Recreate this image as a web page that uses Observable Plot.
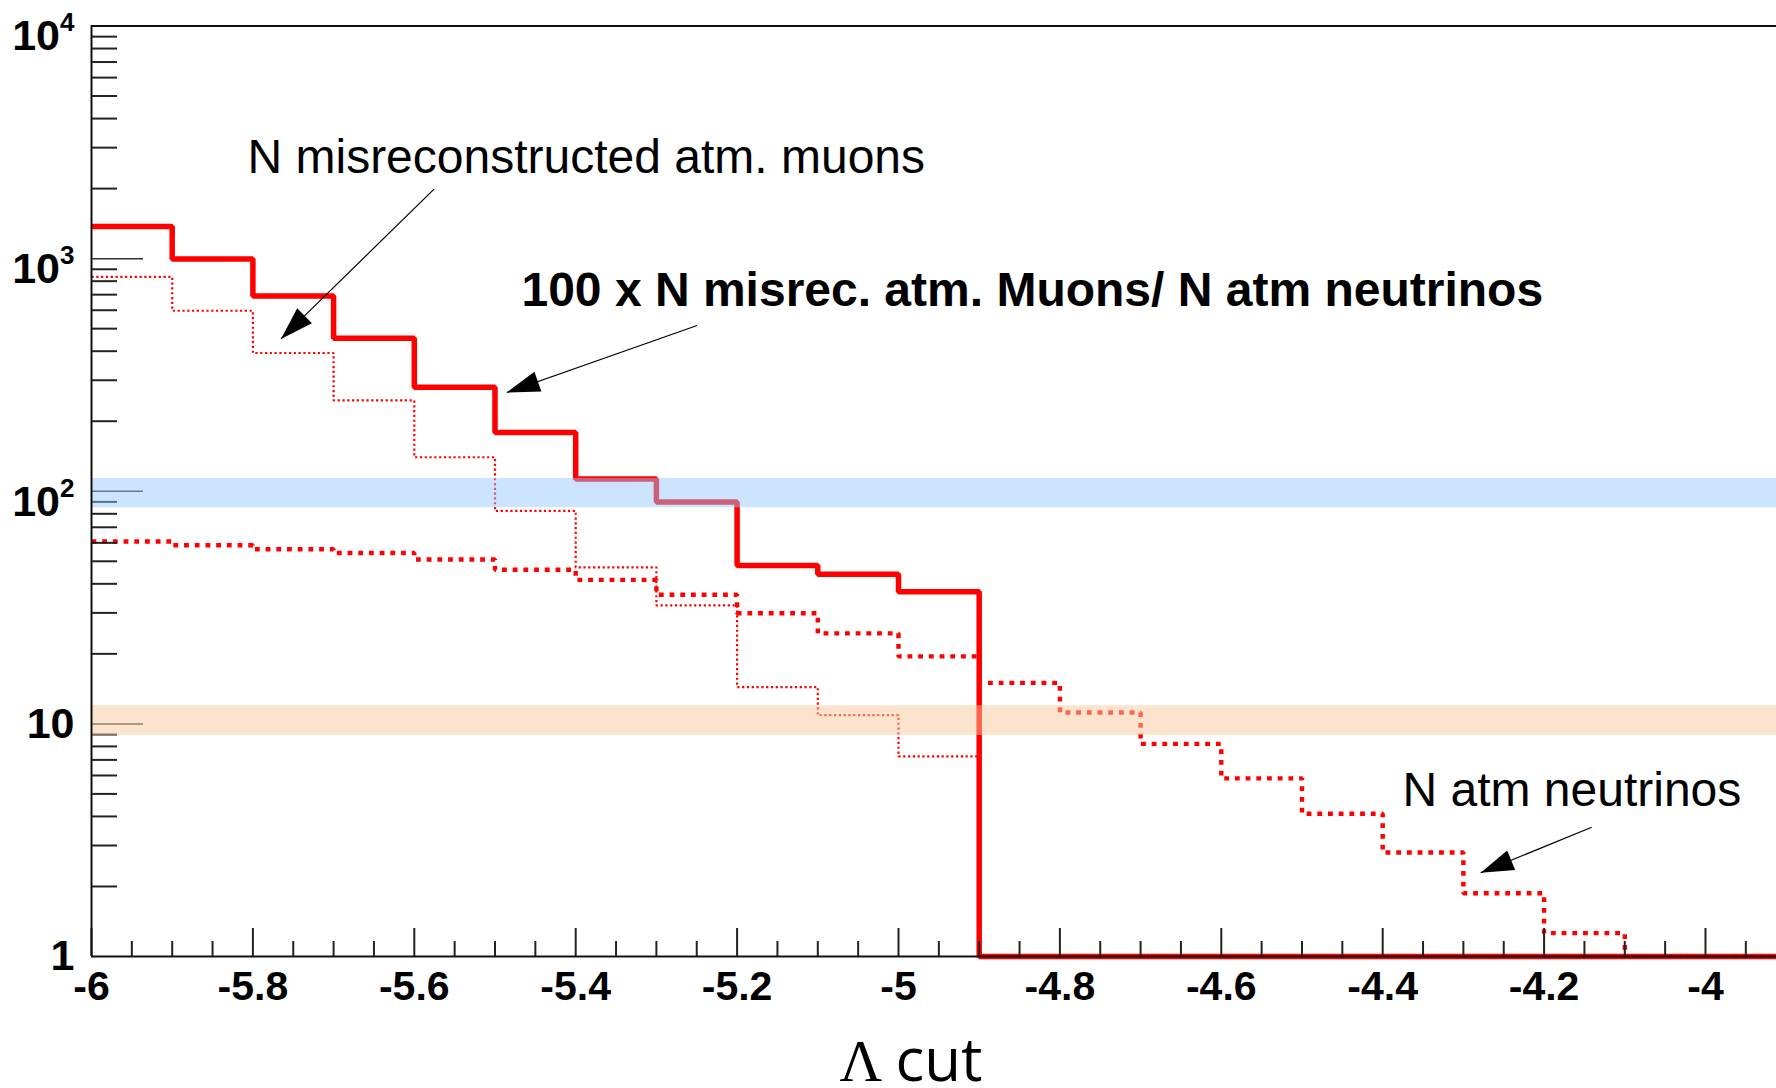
<!DOCTYPE html>
<html>
<head>
<meta charset="utf-8">
<script src="https://cdn.jsdelivr.net/npm/d3@7"></script>
<script src="https://cdn.jsdelivr.net/npm/@observablehq/plot@0.6"></script>
<style>
html, body { margin: 0; padding: 0; background: #fff; }
svg { display: block; }
</style>
</head>
<body>
<div id="chart"></div>
<script>
// ---- data ----
const binEdges = [-6.0, -5.9, -5.8, -5.7, -5.6, -5.5, -5.4, -5.3, -5.2, -5.1, -5.0,
                  -4.9, -4.8, -4.7, -4.6, -4.5, -4.4, -4.3, -4.2, -4.1, -4.0];
const lastEdge = -3.9;
const ratioX100    = [1373, 997, 690, 455, 280, 179, 113, 90, 48, 44, 37, 0, 0, 0, 0, 0, 0, 0, 0, 0, 0];
const misrecMuons  = [835, 597, 393, 246, 140, 82.4, 47.1, 32.3, 14.4, 10.9, 7.25, 0, 0, 0, 0, 0, 0, 0, 0, 0, 0];
const atmNeutrinos = [60.8, 58.6, 56.3, 54.3, 50.9, 46.0, 41.6, 35.9, 29.9, 24.5, 19.5,
                      15.0, 11.2, 8.2, 5.83, 4.11, 2.80, 1.87, 1.26, 0, 0];

const bandLow  = [84.9, 8.92];
const bandHigh = [113.5, 11.96];
const bandFill = ["rgb(149,199,253)", "rgb(250,200,155)"];

const xTicks = [-6, -5.8, -5.6, -5.4, -5.2, -5, -4.8, -4.6, -4.4, -4.2, -4];
const xTickLabels = ["-6", "-5.8", "-5.6", "-5.4", "-5.2", "-5", "-4.8", "-4.6", "-4.4", "-4.2", "-4"];
const yTicks = [1, 10, 100, 1000, 10000];
const yTickLabels = ["1", "10", "10^2", "10^3", "10^4"];
const xTitleSymbol = "Λ";
const xTitleWord = "cut";

const annText = ["N misreconstructed atm. muons", "100 x N misrec. atm. Muons/ N atm neutrinos", "N atm neutrinos"];
const annX = [-5.8067, -5.4672, -4.3755];
const annY = [3271, 874.0, 6.218];
const annBold = [false, true, false];

const arrowFromX = [-5.5755, -5.2496, -4.141];
const arrowFromY = [1990, 515.7, 3.596];
const arrowToX   = [-5.7652, -5.4854, -4.2786];
const arrowToY   = [451.6, 265.7, 2.290];

// ---- helpers ----
const steps = (vals) => binEdges.map((x, i) => ({x, v: vals[i]}))
  .concat([{x: lastEdge, v: vals[vals.length - 1]}]);
const tail = (rows) => rows.filter(d => d.v === 0);
const floorY = d => Math.max(d.v, 1);

const ratioRows = steps(ratioX100);
const muonRows = steps(misrecMuons);
const nuRows = steps(atmNeutrinos);

const bands = bandLow.map((lo, i) => ({lo, hi: bandHigh[i], fill: bandFill[i]}));
const ann = annText.map((t, i) => ({t, x: annX[i], y: annY[i], bold: annBold[i]}));
const arrows = arrowFromX.map((x1, i) => ({x1, y1: arrowFromY[i], x2: arrowToX[i], y2: arrowToY[i]}));

const yMinor = [];
for (let k = 0; k < 4; k++) for (let m = 2; m <= 9; m++) yMinor.push(m * Math.pow(10, k));
const xMinor = d3.range(0, 43).map(i => -6 + i * 0.05).filter(v => Math.abs(Math.round(v * 5) - v * 5) > 1e-6);

const FONT = "Liberation Sans, Arial, Helvetica, sans-serif";
const lineStyle = {strokeLinecap: "butt", strokeLinejoin: "miter"};

const arrowHeadRender = (index, scales, values, dimensions, context, next) => {
  const g = next(index, scales, values, dimensions, context);
  const ns = "http://www.w3.org/2000/svg";
  const L = 33, W = 10.5;
  for (const i of index) {
    const sx = values.x1[i], sy = values.y1[i], tx = values.x2[i], ty = values.y2[i];
    const dx = tx - sx, dy = ty - sy, len = Math.hypot(dx, dy);
    const ux = dx / len, uy = dy / len;
    const bx = tx - L * ux, by = ty - L * uy;
    const p = document.createElementNS(ns, "path");
    p.setAttribute("d", `M${tx},${ty}L${bx - W * uy},${by + W * ux}L${bx + W * uy},${by - W * ux}Z`);
    p.setAttribute("fill", "black");
    p.setAttribute("stroke", "none");
    g.appendChild(p);
  }
  return g;
};

const svg = Plot.plot({
  width: 1776,
  height: 1088,
  marginLeft: 91,
  marginRight: 0,
  marginTop: 25.5,
  marginBottom: 132,
  style: {fontFamily: FONT, background: "white", overflow: "hidden"},
  x: {domain: [-6, -3.912], axis: null},
  y: {type: "log", domain: [1, 10000], axis: null},
  marks: [
    // histograms
    Plot.line(nuRows, {x: "x", y: floorY, curve: "step-after", stroke: "#ff0000", strokeWidth: 4.4, strokeDasharray: "4.8,5.9", ...lineStyle}),
    Plot.line(muonRows, {x: "x", y: floorY, curve: "step-after", stroke: "#ff0000", strokeWidth: 2.2, strokeDasharray: "2.2,2.6", ...lineStyle}),
    Plot.line(ratioRows, {x: "x", y: floorY, curve: "step-after", stroke: "#ff0000", strokeWidth: 5.5, ...lineStyle}),
    Plot.line(tail(muonRows), {x: "x", y: floorY, curve: "step-after", stroke: "#000", strokeWidth: 1.3, strokeDasharray: "2,2", ...lineStyle}),
    Plot.line(tail(nuRows), {x: "x", y: floorY, curve: "step-after", stroke: "#000", strokeWidth: 1.3, strokeDasharray: "3,6", ...lineStyle}),
    // ticks (inside the frame)
    Plot.axisY(yMinor, {anchor: "left", tickSize: -26, tickFormat: () => "", stroke: "#222", strokeWidth: 2, label: null}),
    Plot.axisY([10, 100, 1000], {anchor: "left", tickSize: -52, tickFormat: () => "", stroke: "#333", strokeWidth: 1.5, label: null}),
    Plot.axisX(xMinor, {anchor: "bottom", tickSize: -15, tickFormat: () => "", stroke: "#222", strokeWidth: 2, label: null}),
    Plot.axisX(xTicks, {anchor: "bottom", tickSize: -28, tickFormat: () => "", stroke: "#222", strokeWidth: 2, label: null}),
    // bands
    Plot.rect(bands.slice(0, 1), {y1: "lo", y2: "hi", fill: bandFill[0], fillOpacity: 0.48}),
    Plot.rect(bands.slice(1, 2), {y1: "lo", y2: "hi", fill: bandFill[1], fillOpacity: 0.5}),
    // frame (left, top, bottom)
    Plot.ruleY([10000], {stroke: "#111", strokeWidth: 2}),
    Plot.ruleY([1], {stroke: "#111", strokeWidth: 2}),
    Plot.ruleX([-6], {stroke: "#111", strokeWidth: 2}),
    // tick labels
    Plot.axisY([1, 10], {anchor: "left", tickSize: 0, tickPadding: 17, fontSize: 43, fontWeight: "bold", fill: "black",
      tickFormat: d => yTickLabels[yTicks.indexOf(d)], label: null}),
    Plot.axisY([100, 1000, 10000], {anchor: "left", tickSize: 0, tickPadding: 17, fontSize: 43, fontWeight: "bold", fill: "black", dy: 10.7,
      tickFormat: d => yTickLabels[yTicks.indexOf(d)], label: null}),
    Plot.axisX(xTicks, {anchor: "bottom", tickSize: 0, tickPadding: 14, fontSize: 41, fontWeight: "bold", fill: "black",
      tickFormat: d => xTickLabels[xTicks.indexOf(d)], label: null}),
    // x-axis title
    Plot.text([xTitleSymbol], {text: d => d, frameAnchor: "bottom", textAnchor: "middle", lineAnchor: "top",
      dx: -73, dy: 82.8, fontSize: 59, fontFamily: "Liberation Serif, Times New Roman, serif", fill: "black"}),
    Plot.text([xTitleWord], {text: d => d, frameAnchor: "bottom", textAnchor: "start", lineAnchor: "top",
      dx: -38.5, dy: 82, fontSize: 60, fontFamily: "Open Sans, DejaVu Sans, sans-serif", fill: "black"}),
    // annotations
    Plot.link(arrows, {x1: "x1", y1: "y1", x2: "x2", y2: "y2", stroke: "black", strokeWidth: 1.2, render: arrowHeadRender}),
    Plot.text(ann.filter(d => !d.bold), {x: "x", y: "y", text: "t", textAnchor: "start", lineAnchor: "top",
      fontSize: 48, fill: "black"}),
    Plot.text(ann.filter(d => d.bold), {x: "x", y: "y", text: "t", textAnchor: "start", lineAnchor: "top",
      fontSize: 48, fontWeight: "bold", fill: "black"})
  ]
});

// superscripts for 10^n labels
d3.select(svg).selectAll("text").each(function () {
  const t = this.textContent;
  if (t && t.includes("^")) {
    const [base, exp] = t.split("^");
    const sel = d3.select(this);
    sel.text(null);
    sel.append("tspan").text(base);
    sel.append("tspan").attr("dy", -19).attr("font-size", 26).text(exp);
  }
});

document.getElementById("chart").appendChild(svg);
</script>
</body>
</html>
